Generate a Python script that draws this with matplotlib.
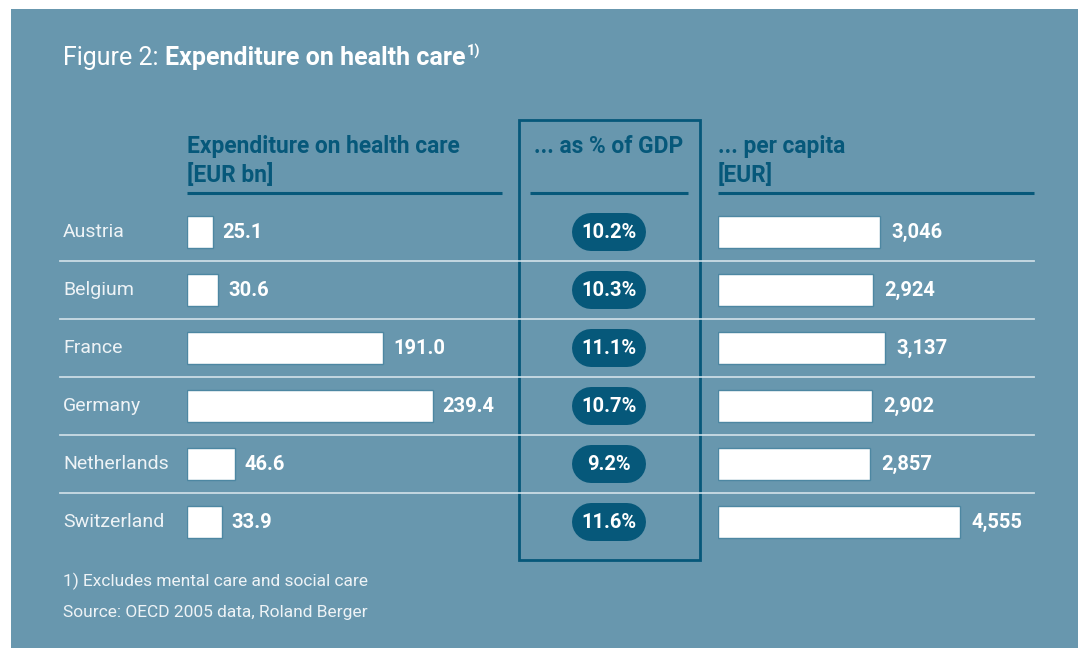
import matplotlib.pyplot as plt
from matplotlib.patches import Rectangle
import matplotlib.font_manager as fm

# data
countries = ["Austria", "Belgium", "France", "Germany", "Netherlands", "Switzerland"]
spend_bn = [25.1, 30.6, 191.0, 239.4, 46.6, 33.9]
gdp_share = [10.2, 10.3, 11.1, 10.7, 9.2, 11.6]
per_capita = [3046, 2924, 3137, 2902, 2857, 4555]

title_plain = "Figure 2: "
title_bold = "Expenditure on health care"
head_left = "Expenditure on health care\n[EUR bn]"
head_mid = "... as % of GDP"
head_right = "... per capita\n[EUR]"
note1 = "1) Excludes mental care and social care"
note2 = "Source: OECD 2005 data, Roland Berger"

# colours
BG = "#6897ae"
DARK = "#06587a"
WHITE = "#ffffff"
LIGHT = "#eef3f6"

names = {f.name for f in fm.fontManager.ttflist}
FONT = "Liberation Sans Narrow" if "Liberation Sans Narrow" in names else "Roboto"
plt.rcParams["font.family"] = [FONT, "DejaVu Sans"]

W, H = 1078, 649
fig = plt.figure(figsize=(W / 100, H / 100), dpi=100)
fig.patch.set_facecolor("white")

# background axes in pixel coordinates
bg = fig.add_axes([0, 0, 1, 1])
bg.set_xlim(0, W)
bg.set_ylim(H, 0)
bg.axis("off")
bg.add_patch(Rectangle((11, 9), W - 11, 639, facecolor=BG, edgecolor="none", zorder=0))

# title: plain prefix, bold main part, superscript note marker
t1 = bg.text(63, 58, title_plain, color=WHITE, fontsize=18, va="center", ha="left")
fig.canvas.draw()
r = fig.canvas.get_renderer()
bb = t1.get_window_extent(r)
t2 = fig.text(bb.x1 / W, 1 - 58 / H, title_bold, color=WHITE, fontsize=18,
              fontweight="bold", va="center", ha="left")
bb2 = t2.get_window_extent(r)
fig.text(bb2.x1 / W + 0.001, 1 - 51 / H, "1)", color=WHITE, fontsize=10.5,
         fontweight="bold", va="center", ha="left")

# column headers
bg.text(187, 135, head_left, color=DARK, fontsize=16.4, fontweight="bold",
        va="top", ha="left", linespacing=1.25)
bg.text(609, 135, head_mid, color=DARK, fontsize=16.4, fontweight="bold",
        va="top", ha="center")
bg.text(718, 135, head_right, color=DARK, fontsize=16.4, fontweight="bold",
        va="top", ha="left", linespacing=1.25)
for xa, xb in [(187, 502), (530, 688), (718, 1034)]:
    bg.plot([xa, xb], [193, 193], color=DARK, lw=2.2, solid_capstyle="butt")

# box around the GDP column
bg.add_patch(Rectangle((519, 120), 181, 440, facecolor="none", edgecolor=DARK,
                       lw=2.0, zorder=2))

row0, step = 232, 58
n = len(countries)

# row separators
for i in range(n - 1):
    y = row0 + step * i + step / 2
    bg.plot([60, 1034], [y, y], color="#dce8ee", lw=1.3, alpha=0.85, zorder=3)

# country labels, GDP pills (thick line with round caps gives a stadium shape)
pill_h = 38 * 72 / 100
for i, (c, g) in enumerate(zip(countries, gdp_share)):
    y = row0 + step * i
    bg.text(63, y, c, color=LIGHT, fontsize=14, va="center", ha="left")
    bg.plot([591, 627], [y, y], color=DARK, lw=pill_h, solid_capstyle="round", zorder=4)
    bg.text(609, y + 1, f"{g:.1f}%", color=WHITE, fontsize=14.5,
            fontweight="bold", va="center", ha="center", zorder=5)

top_px = row0 - step / 2
bot_px = row0 + step * (n - 1) + step / 2


def bar_axes(x0, x1, px_per_unit):
    ax = fig.add_axes([x0 / W, 1 - bot_px / H, (x1 - x0) / W, (bot_px - top_px) / H])
    ax.set_xlim(0, (x1 - x0) / px_per_unit)
    ax.set_ylim(n - 0.5, -0.5)
    ax.axis("off")
    ax.patch.set_alpha(0)
    return ax


# left bars: health spending, EUR bn
axl = bar_axes(187, 502, 1.027)
axl.barh(range(n), spend_bn, height=0.54, color=WHITE, edgecolor="#4d87a2", lw=1.0)
for i, v in enumerate(spend_bn):
    axl.annotate(f"{v:.1f}", (v, i), xytext=(7, 0), textcoords="offset points",
                 color=WHITE, fontsize=14.5, fontweight="bold", va="center", ha="left")

# right bars: per capita, EUR
axr = bar_axes(718, 1034, 0.05318)
axr.barh(range(n), per_capita, height=0.54, color=WHITE, edgecolor="#4d87a2", lw=1.0)
for i, v in enumerate(per_capita):
    axr.annotate(f"{v:,}", (v, i), xytext=(8, 0), textcoords="offset points",
                 color=WHITE, fontsize=14.5, fontweight="bold", va="center", ha="left")

# footnotes
bg.text(63, 581, note1, color=LIGHT, fontsize=12.5, va="center", ha="left")
bg.text(63, 613, note2, color=LIGHT, fontsize=12.5, va="center", ha="left")

fig.savefig("out.png", dpi=100, facecolor=fig.get_facecolor())
